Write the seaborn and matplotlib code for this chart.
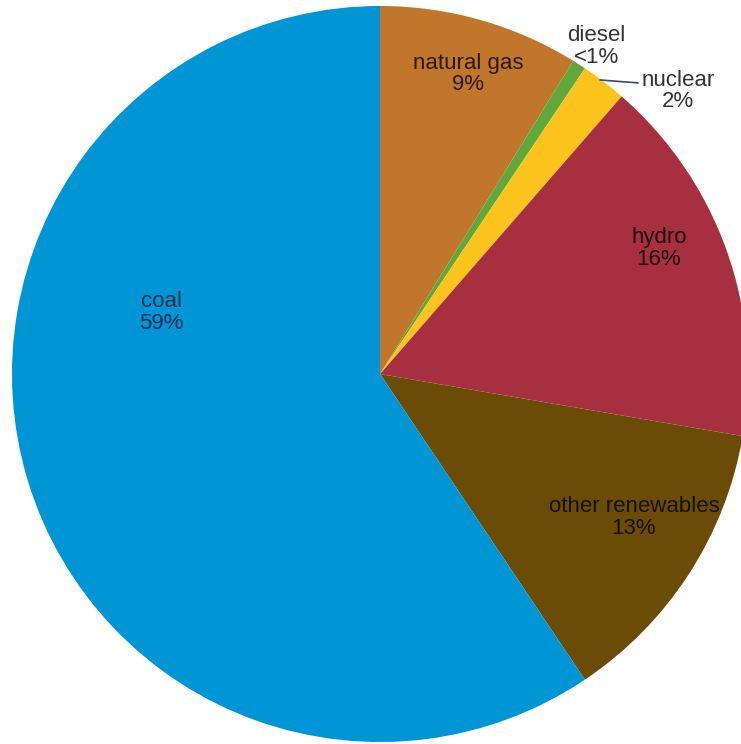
import matplotlib
matplotlib.use("Agg")
import matplotlib.pyplot as plt
import seaborn as sns
import numpy as np

# Electricity generation mix (share of total, %)
sources = ["natural gas", "diesel", "nuclear", "hydro", "other renewables", "coal"]
shares = [8.8, 0.6, 2.0, 16.3, 12.9, 59.4]
colors = ["#C0772C", "#5FA83C", "#FBC31B", "#A6303F", "#6B4C07", "#0096D6"]
text_colors = ["#2E1B0A", "#333333", "#333333", "#220A0E", "#171103", "#102E50"]

sns.set_theme(style="white")
plt.rcParams["font.family"] = ["Liberation Sans", "DejaVu Sans"]

W, H = 741, 744
fig = plt.figure(figsize=(W / 100, H / 100), dpi=100)
ax = fig.add_axes([0, 0, 1, 1])

# pie center / radius in pixels, converted to data limits (radius = 1)
cx, cy, r = 380, 374, 368

wedges, _ = ax.pie(
    shares, colors=colors, startangle=90, counterclock=False, radius=1.0,
    wedgeprops=dict(linewidth=0),
    frame=True,
)
ax.set_xlim(-cx / r, (W - cx) / r)
ax.set_ylim(-(H - cy) / r, cy / r)
ax.set_aspect("auto")
ax.axis("off")


def pct_label(v):
    return "<1%" if v < 1 else f"{round(v):.0f}%"


# label anchor points (in pie-radius units)
label_pos = {
    "natural gas": (0.239, 0.815),
    "diesel": (0.587, 0.891),
    "nuclear": (0.810, 0.769),
    "hydro": (0.758, 0.342),
    "other renewables": (0.690, -0.389),
    "coal": (-0.595, 0.168),
}

for name, val, tc in zip(sources, shares, text_colors):
    x, y = label_pos[name]
    ax.text(x, y, f"{name}\n{pct_label(val)}", ha="center", va="center",
            fontsize=16, color=tc, linespacing=1.05)

# leader line for the small nuclear slice
ax.plot([0.598, 0.701], [0.799, 0.791], color="#3A4A55", lw=1.2)

fig.savefig("out.png", dpi=100)
